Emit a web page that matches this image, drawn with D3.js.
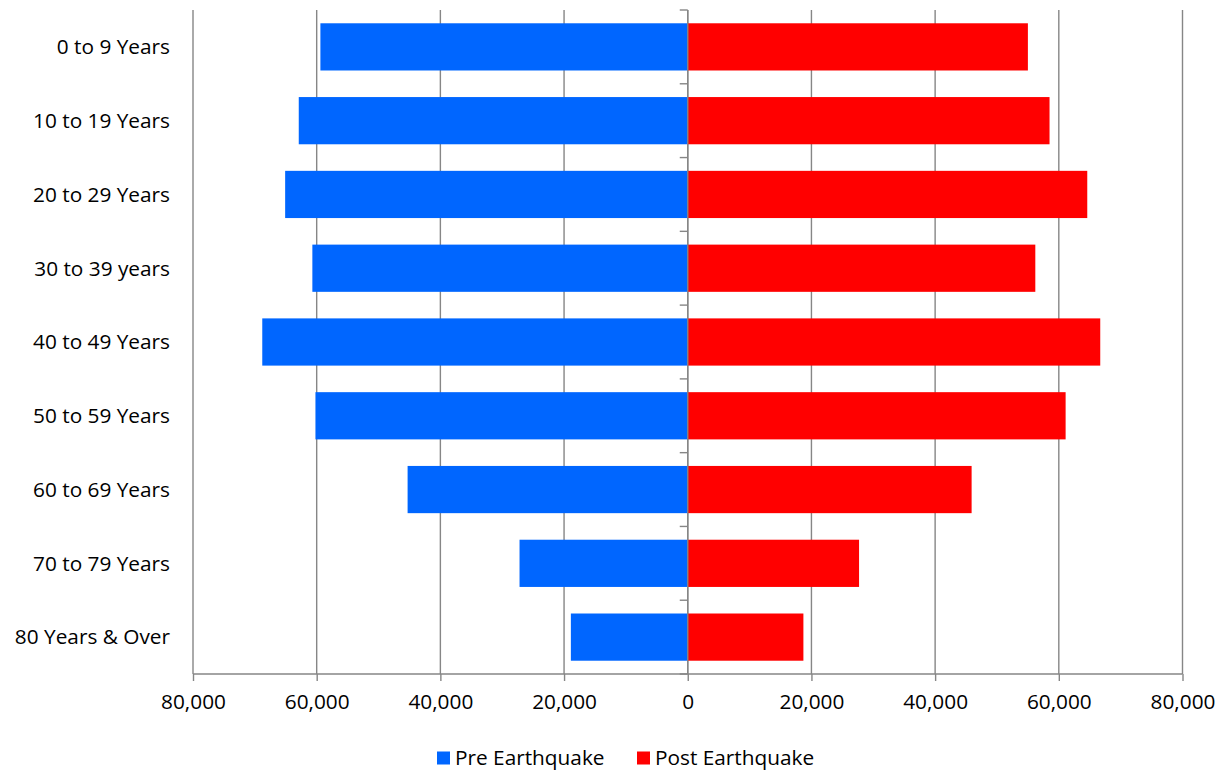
<!DOCTYPE html>
<html>
<head>
<meta charset="utf-8">
<script src="https://cdn.jsdelivr.net/npm/d3@7"></script>
<style>
  html, body { margin: 0; padding: 0; background: #fff; }
  svg text { font-family: "Open Sans", "Noto Sans", sans-serif; fill: #000; }
</style>
</head>
<body>
<svg id="chart" width="1232" height="771"></svg>
<script>
const categories = ["0 to 9 Years", "10 to 19 Years", "20 to 29 Years", "30 to 39 years",
  "40 to 49 Years", "50 to 59 Years", "60 to 69 Years", "70 to 79 Years", "80 Years & Over"];
const preEarthquake  = [59400, 62900, 65100, 60700, 68800, 60200, 45300, 27200, 18900];
const postEarthquake = [55000, 58500, 64600, 56200, 66700, 61100, 45900, 27700, 18700];
const xTicks = [-80000, -60000, -40000, -20000, 0, 20000, 40000, 60000, 80000];
const seriesNames = ["Pre Earthquake", "Post Earthquake"];
const seriesColors = ["#0066FF", "#FF0000"];

(function () {
const svg = d3.select("#chart");
const pLeft = 193, pRight = 1182.5, pTop = 10, pBottom = 674;
const gridColor = "#868686";
const fontSize = 20.8;

const x = d3.scaleLinear().domain([-80000, 80000]).range([pLeft, pRight]);
const y = d3.scaleBand().domain(categories).range([pTop, pBottom])
  .paddingInner(0.36).paddingOuter(0.18);

// gridlines
svg.append("g").selectAll("line").data(xTicks).join("line")
  .attr("x1", d => x(d)).attr("x2", d => x(d))
  .attr("y1", pTop).attr("y2", pBottom)
  .attr("stroke", gridColor).attr("stroke-width", 1.4);

// bars
const rows = categories.map((c, i) => ({c, pre: preEarthquake[i], post: postEarthquake[i]}));
svg.append("g").selectAll("rect").data(rows).join("rect")
  .attr("x", d => x(-d.pre)).attr("width", d => x(0) - x(-d.pre))
  .attr("y", d => y(d.c)).attr("height", y.bandwidth())
  .attr("fill", seriesColors[0]);
svg.append("g").selectAll("rect").data(rows).join("rect")
  .attr("x", x(0)).attr("width", d => x(d.post) - x(0))
  .attr("y", d => y(d.c)).attr("height", y.bandwidth())
  .attr("fill", seriesColors[1]);

// bottom axis
const xAxis = d3.axisBottom(x).tickValues(xTicks)
  .tickFormat(d => d3.format(",")(Math.abs(d)))
  .tickSize(7).tickPadding(13);
const gx = svg.append("g").attr("transform", `translate(0,${pBottom})`).call(xAxis);
gx.select(".domain").attr("stroke", gridColor).attr("stroke-width", 1.4)
  .attr("d", `M${pLeft},0H${pRight}`);
gx.selectAll(".tick line").attr("stroke", gridColor).attr("stroke-width", 1.4);
gx.selectAll(".tick text").attr("font-size", fontSize).attr("font-family", "Open Sans").attr("fill", "#000");

// vertical axis at zero with category boundary ticks
const g0 = svg.append("g");
g0.append("line").attr("x1", x(0)).attr("x2", x(0)).attr("y1", pTop).attr("y2", pBottom)
  .attr("stroke", gridColor).attr("stroke-width", 1.4);
const boundaries = categories.map(c => y(c) - (y.step() - y.bandwidth()) / 2);
boundaries.push(pBottom);
g0.selectAll("line.tk").data(boundaries).join("line").attr("class", "tk")
  .attr("x1", x(0) - 8).attr("x2", x(0))
  .attr("y1", d => d).attr("y2", d => d)
  .attr("stroke", gridColor).attr("stroke-width", 1.4);

// category labels
svg.append("g").selectAll("text").data(categories).join("text")
  .attr("x", 170).attr("y", d => y(d) + y.bandwidth() / 2)
  .attr("dy", "0.35em").attr("text-anchor", "end")
  .attr("font-size", fontSize).text(d => d);

// legend
const legendY = 758;
const legendItems = [{name: seriesNames[0], color: seriesColors[0], x: 437},
                     {name: seriesNames[1], color: seriesColors[1], x: 637}];
const lg = svg.append("g").selectAll("g").data(legendItems).join("g")
  .attr("transform", d => `translate(${d.x},${legendY})`);
lg.append("rect").attr("x", 0).attr("y", -6.5).attr("width", 13).attr("height", 13)
  .attr("fill", d => d.color);
lg.append("text").attr("x", 18).attr("y", 0).attr("dy", "0.35em")
  .attr("font-size", fontSize).text(d => d.name);
})();
</script>
</body>
</html>
